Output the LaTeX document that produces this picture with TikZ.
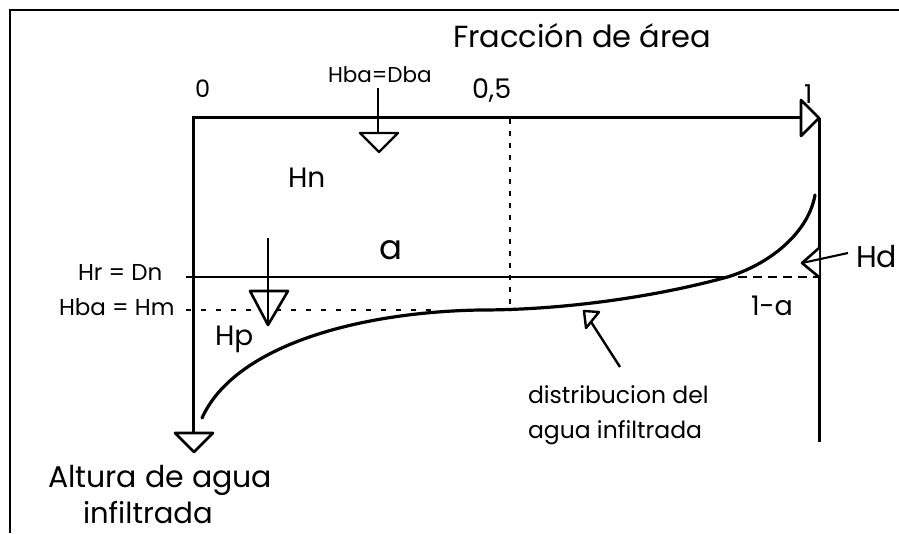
\documentclass[tikz,border=0pt]{standalone}
\usepackage{fontspec}
\setmainfont{Poppins}
\begin{document}
\begin{tikzpicture}[x=1pt,y=-1pt,
  lbl/.style={anchor=base west,inner sep=0pt,outer sep=0pt},
  axisline/.style={line width=3pt},
  thinline/.style={line width=2.1pt},
  dashline/.style={line width=2pt,dash pattern=on 5pt off 10pt},
  tri/.style={line width=2.6pt,fill=white,line join=round}]
\useasboundingbox (0,0) rectangle (899,533);
% frame
\draw[line width=2.4pt] (10,533) -- (10,10) -- (899,10);
% coordinates
\coordinate (O) at (193,117);
\coordinate (Xend) at (802,117);
\coordinate (Yend) at (193,433);
\coordinate (Rtop) at (819,118);
\coordinate (Rbot) at (819,442);
\coordinate (HrL) at (186,277);
\coordinate (HrR) at (728,277);
\coordinate (HmL) at (186,310);
\coordinate (HmR) at (440,310);
\coordinate (HalfT) at (510,119);
\coordinate (HalfB) at (510,311);
\coordinate (DaL) at (738,277);
\coordinate (DaR) at (819,277);
\coordinate (C0) at (202,418);
\coordinate (C1) at (480,310);
\coordinate (C2) at (720,279);
\coordinate (C3) at (815,195);
% axes
\draw[axisline] (Xend) -- (O) -- (Yend);
\draw[axisline] (Rtop) -- (Rbot);
\draw[tri] (801,100) -- (819,118) -- (801,136) -- cycle;
\draw[tri] (175,433) -- (213,433) -- (194,452) -- cycle;
% horizontal reference lines
\draw[thinline] (HrL) -- (HrR);
\draw[dashline] (HmL) -- (HmR);
\draw[dashline,dash pattern=on 5pt off 7pt] (HalfT) -- (HalfB);
\draw[dashline,dash pattern=on 9pt off 6pt] (DaL) -- (DaR);
% curve
\draw[line width=3.2pt,line cap=round] (C0) .. controls (235,345) and (360,312) .. (C1)
  .. controls (570,310) and (660,295) .. (C2)
  .. controls (765,268) and (808,235) .. (C3);
% Hba=Dba arrow
\coordinate (DbaS) at (378,88);
\coordinate (DbaE) at (378,133);
\draw[thinline] (DbaS) -- (DbaE);
\draw[tri,line width=2.4pt] (360,133) -- (398,133) -- (379,152) -- cycle;
% Hp arrow
\coordinate (HpS) at (268,238);
\coordinate (HpE) at (268,325);
\draw[tri] (250,291) -- (288,291) -- (268,325) -- cycle;
\draw[thinline] (HpS) -- (HpE);
% Hd arrow
\coordinate (HdTip) at (802,263);
\coordinate (HdEnd) at (848,253);
\draw[tri] (819,248) -- (HdTip) -- (819,277);
\draw[thinline] (HdTip) -- (HdEnd);
% distribution arrow
\coordinate (DtTip) at (584,311);
\coordinate (DtEnd) at (620,367);
\draw[line width=2.4pt] (DtEnd) -- (DtTip);
\draw[tri,line width=2.4pt] (DtTip) -- (599,312) -- (586,328) -- cycle;
% labels
\node[lbl,font=\fontsize{30.5}{32}\selectfont] (tit) at (453,47) {Fracción de área};
\node[lbl,font=\fontsize{24}{26}\selectfont] (n0) at (195,97) {0};
\node[lbl,font=\fontsize{21.5}{23}\selectfont] (hba) at (328,82) {Hba=Dba};
\node[lbl,font=\fontsize{27}{29}\selectfont] (n05) at (472,98) {0,5};
\node[lbl,font=\fontsize{26}{28}\selectfont] (n1) at (804,103) {1};
\node[lbl,font=\fontsize{28}{30}\selectfont] (hn) at (288,187) {Hn};
\node[lbl,font=\fontsize{34}{36}\selectfont] (la) at (379,259) {a};
\node[lbl,font=\fontsize{23}{25}\selectfont] (hr) at (78,280) {Hr = Dn};
\node[lbl,font=\fontsize{23}{25}\selectfont] (hm) at (59,315) {Hba = Hm};
\node[lbl,font=\fontsize{28}{30}\selectfont] (hp) at (215,345) {Hp};
\node[lbl,font=\fontsize{27}{29}\selectfont] (l1a) at (751,315) {1-a};
\node[lbl,font=\fontsize{30}{32}\selectfont] (hd) at (856,267) {Hd};
\node[lbl,font=\fontsize{23.5}{25}\selectfont] (d1) at (528,403) {distribucion del};
\node[lbl,font=\fontsize{23.5}{25}\selectfont] (d2) at (528,438) {agua infiltrada};
\node[lbl,font=\fontsize{30}{32}\selectfont] (alt1) at (48,487) {Altura de agua};
\node[lbl,font=\fontsize{29}{31}\selectfont] (alt2) at (83,523) {infiltrada};
\end{tikzpicture}
\end{document}
